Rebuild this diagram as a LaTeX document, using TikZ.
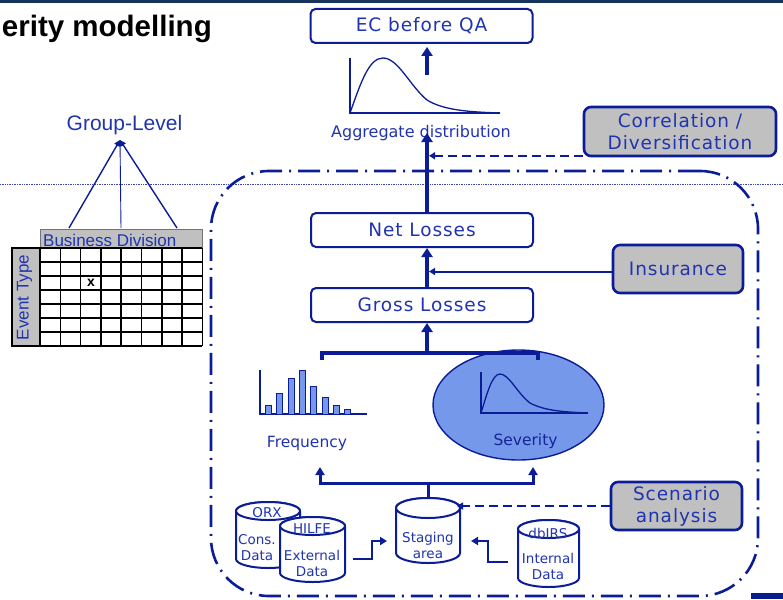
\documentclass[tikz,border=0pt]{standalone}
\usepackage{fontspec}
\setmainfont{DejaVu Sans}
\newfontfamily\arialfont{Liberation Sans}
\newfontfamily\spacedfont[LetterSpace=5]{DejaVu Sans}
\usetikzlibrary{arrows.meta,shapes.geometric,calc}

\definecolor{lineblue}{RGB}{10,28,150}
\definecolor{textblue}{RGB}{32,52,175}
\definecolor{darktext}{RGB}{20,38,150}
\definecolor{boxgray}{RGB}{192,192,192}
\definecolor{fillblue}{RGB}{118,152,234}
\definecolor{bandblue}{RGB}{22,52,92}
\definecolor{navybar}{RGB}{8,30,140}

\newcommand\setsize[2]{\fontsize{#1}{#2}\selectfont}

% cylinder-shaped data store: name, centre x, top y, bottom y, half width, end radius
\newcommand\datastore[6]{%
  \node[inner sep=0pt, outer sep=0pt, minimum width=2*#5, minimum height=#4-#3] (#1) at (#2,{(#3+#4)/2}) {};
  \filldraw[cylline] (#2-#5,#3+#6) -- (#2-#5,#4-#6)
     arc[start angle=180, end angle=0, x radius=#5, y radius=#6]
     -- (#2+#5,#3+#6)
     arc[start angle=0, end angle=-180, x radius=#5, y radius=#6] -- cycle;
  \draw[cylline] (#2,#3+#6) ellipse[x radius=#5, y radius=#6];
}

\tikzset{
  stagebox/.style={draw=lineblue, line width=2pt, rounded corners=5pt, fill=white,
    minimum width=222pt, minimum height=34pt, inner sep=0pt, text=textblue,
    font=\spacedfont\setsize{18.5}{22}},
  inputbox/.style={stagebox, fill=boxgray, line width=2.6pt, align=center, rounded corners=7pt},
  spinearrow/.style={draw=lineblue, line width=4pt, -{Triangle[length=9pt,width=11pt]}},
  thinarrow/.style={draw=lineblue, line width=2pt, -{Triangle[length=6pt,width=7pt]}},
  dasharrow/.style={draw=lineblue, line width=2pt, dash pattern=on 9pt off 5pt, -{Triangle[length=6pt,width=7pt]}},
  feedarrow/.style={draw=lineblue, line width=2.2pt, -{Triangle[length=7pt,width=8pt]}},
  bracketline/.style={draw=lineblue, line width=3.6pt},
  lowbracket/.style={draw=lineblue, line width=3pt},
  lowarrow/.style={lowbracket, -{Triangle[length=8pt,width=9pt]}},
  frame/.style={draw=lineblue, line width=2.6pt, rounded corners=58pt,
    dash pattern=on 22pt off 7pt on 2pt off 7pt, inner sep=0pt},
  axis/.style={draw=lineblue, line width=1.3pt},
  curve/.style={draw=lineblue, line width=1.3pt},
  histbar/.style={draw=lineblue, fill=fillblue, line width=1pt},
  cylline/.style={draw=lineblue, fill=white, line width=2pt},
  smalltext/.style={text=textblue, font=\setsize{13.5}{16}, align=center, inner sep=0pt},
  labeltext/.style={text=textblue, font=\setsize{15.5}{18}, inner sep=0pt},
  gridline/.style={draw=black, line width=1.6pt},
  grouparrow/.style={draw=lineblue, line width=1.4pt, -{Triangle[length=6pt,width=6pt]}}
}

\begin{document}
\begin{tikzpicture}[x=1pt,y=-1pt]
\useasboundingbox (0,0) rectangle (783,599);

% page decoration
\fill[bandblue] (0,0) rectangle (783,3);
\fill[navybar] (751,593) rectangle (783,599);
\draw[lineblue!80, densely dotted, line width=0.7pt] (0,184) -- (783,184);

% title
\node[anchor=base east, inner sep=0pt, font=\arialfont\bfseries\setsize{29.5}{32}] (title) at (212,37) {erity modelling};

% model boundary
\node[frame, minimum width=547pt, minimum height=425pt] (frame) at (484.5,383.5) {};

% main chain
\coordinate (spine) at (427,0);
\node[stagebox] (ec) at (421.5,26) {EC before QA};
\node[stagebox] (net) at (422,230) {Net Losses};
\node[stagebox] (gross) at (422,305) {Gross Losses};

% side inputs
\node[inputbox, minimum width=192pt, minimum height=49pt] (corr) at (680,131.5) {Correlation /\\Diversification};
\node[inputbox, minimum width=130pt, minimum height=48pt] (ins) at (678,269) {Insurance};
\node[inputbox, minimum width=131pt, minimum height=48pt] (scen) at (676.5,506) {Scenario\\analysis};

% aggregate distribution
\draw[axis] (350,58) -- (350,113) -- (500,113);
\draw[curve] (350,113) .. controls (361,82) and (369,58) .. (383,58)
  .. controls (398,58) and (410,86) .. (427,100)
  .. controls (443,110) and (468,112) .. (500,113);
\node[labeltext, font=\setsize{16}{18}, anchor=base] (aggtext) at (421,137) {Aggregate distribution};
\coordinate (aggin) at (427,133);
\coordinate (aggout) at (427,75);

\draw[spinearrow] (net.north -| spine) -- (aggin);
\draw[spinearrow, shorten >=3pt] (aggout) -- (ec.south -| spine);
\draw[spinearrow] (gross.north -| spine) -- (net.south -| spine);
\draw[dasharrow, shorten >=2pt] ([yshift=1.5pt]corr.south west) -- ([yshift=1.5pt]corr.south west -| spine);
\draw[thinarrow, shorten >=2pt] ([yshift=-2.5pt]ins.west) -- ([yshift=-2.5pt]ins.west -| spine);

% severity
\node[ellipse, draw=lineblue, fill=fillblue, line width=1.4pt, minimum width=171pt, minimum height=110pt, inner sep=0pt] (sev) at (518.5,405) {};
\draw[axis] (481,372) -- (481,413) -- (588,413);
\draw[curve] (481,413) .. controls (487,394) and (492,374) .. (500,374)
  .. controls (509,374) and (517,393) .. (530,403)
  .. controls (545,411) and (565,412) .. (588,413);
\node[labeltext, text=darktext, anchor=base] (sevtext) at (525.5,445) {Severity};

% frequency
\draw[axis] (260,370) -- (260,414) -- (367,414);
\foreach \x/\t in {265.7/405.7, 276.7/393.3, 288.3/378.3, 299.3/370, 310.7/386, 322/397.3, 333.3/405.7, 344.3/409.3}
  \filldraw[histbar] (\x,414) rectangle (\x+6,\t);
\node[labeltext, anchor=base] (freq) at (307,447) {Frequency};

% frequency and severity feed gross losses
\coordinate (brC) at (427,353);
\coordinate (toFreq) at (322,360);
\coordinate (toSev) at (538,360);
\draw[bracketline] (toFreq) |- (brC) -| (toSev);
\draw[spinearrow] (brC) -- (gross.south -| spine);

% data stores
\datastore{orx}{268}{502}{568}{32}{9}
\datastore{hilfe}{312.5}{517}{582}{32.5}{9}
\datastore{stage}{428}{498}{563}{32}{10}
\datastore{dbirs}{548.5}{520}{587}{30.5}{9}

\node[smalltext] (orxname) at (267,513) {ORX};
\node[smalltext] (orxtext) at (257,548) {Cons.\\Data};
\node[smalltext] (hilfename) at (312,529) {HILFE};
\node[smalltext] (hilfetext) at (312,563) {External\\Data};
\node[smalltext] (stagetext) at (428,545) {Staging\\area};
\node[smalltext] (dbirsname) at (548,533) {dbIRS};
\node[smalltext] (dbirstext) at (548,566) {Internal\\Data};

% staging area feeds frequency and severity
\coordinate (lbC) at (428,483);
\coordinate (upF) at (320,467);
\coordinate (upS) at (533,467);
\draw[lowbracket] (stage.north) -- (lbC);
\draw[lowarrow] (lbC) -| (upF);
\draw[lowarrow] (lbC) -| (upS);

% data feeds into staging area
\coordinate (hout) at (353,559);
\coordinate (inL) at (387,541);
\coordinate (dout) at (508,562);
\coordinate (inR) at (471,541);
\draw[feedarrow] (hout) -- ++(19,0) |- (inL);
\draw[feedarrow] (dout) -- ++(-20,0) |- (inR);
\draw[dasharrow, shorten >=-3pt] (scen.west) -- (scen.west -| stage.east);

% group-level aggregation grid
\node[text=textblue, font=\arialfont\setsize{21}{24}, inner sep=0pt] (grp) at (124.5,125) {Group-Level};
\coordinate (apex) at (120,140);

\filldraw[fill=boxgray, draw=black!55, line width=0.8pt] (40,229) rectangle (202,248);
\fill[boxgray] (12,248) rectangle (40,346);
\node[anchor=base west, inner sep=0pt, text=textblue, font=\arialfont\setsize{17}{20}] (bdiv) at (43,246.5) {Business Division};
\node[anchor=base, rotate=90, inner sep=0pt, text=textblue, font=\arialfont\setsize{17}{20}] (etype) at (28.5,297.5) {Event Type};

\foreach \i in {0,...,8}
  \draw[gridline] ({40+\i*20.3},248) -- ({40+\i*20.3},346);
\foreach \j in {0,...,7}
  \draw[gridline] (40,{248+\j*14}) -- (202.4,{248+\j*14});
\draw[gridline] (40,248) -- (12,248) -- (12,346) -- (40,346);
\node[inner sep=0pt, font=\arialfont\bfseries\setsize{14}{16}] (mark) at (91,283) {x};

\coordinate (gA) at (69,228);
\coordinate (gB) at (121,228);
\coordinate (gC) at (177,228);
\draw[grouparrow] (gA) -- (apex);
\draw[grouparrow, line width=0.9pt] (gB) -- (apex);
\draw[grouparrow] (gC) -- (apex);
\end{tikzpicture}
\end{document}
